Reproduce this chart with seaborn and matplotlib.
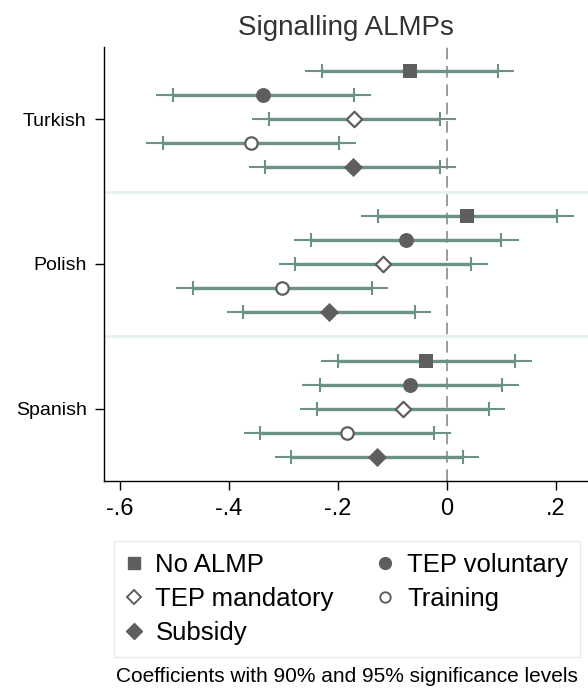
import numpy as np
import pandas as pd
import matplotlib
matplotlib.use("Agg")
import matplotlib.pyplot as plt
import seaborn as sns
from matplotlib.lines import Line2D

groups = ["Turkish", "Polish", "Spanish"]
series = ["No ALMP", "TEP voluntary", "TEP mandatory", "Training", "Subsidy"]

coef_noalmp = [-0.068, 0.037, -0.038]
lo95_noalmp = [-0.260, -0.157, -0.230]
hi95_noalmp = [0.1235, 0.233, 0.156]
lo90_noalmp = [-0.229, -0.127, -0.1995]
hi90_noalmp = [0.093, 0.202, 0.125]

coef_tepvol = [-0.3365, -0.0747, -0.0667]
lo95_tepvol = [-0.533, -0.281, -0.265]
hi95_tepvol = [-0.139, 0.132, 0.132]
lo90_tepvol = [-0.502, -0.249, -0.233]
hi90_tepvol = [-0.170, 0.0996, 0.101]

coef_tepman = [-0.170, -0.117, -0.0807]
lo95_tepman = [-0.357, -0.308, -0.2686]
hi95_tepman = [0.017, 0.075, 0.1075]
lo90_tepman = [-0.327, -0.278, -0.2385]
hi90_tepman = [-0.012, 0.044, 0.0776]

coef_training = [-0.360, -0.303, -0.1835]
lo95_training = [-0.552, -0.497, -0.372]
hi95_training = [-0.167, -0.108, 0.0073]
lo90_training = [-0.521, -0.466, -0.342]
hi90_training = [-0.198, -0.138, -0.0233]

coef_subsidy = [-0.173, -0.2166, -0.128]
lo95_subsidy = [-0.363, -0.403, -0.3156]
hi95_subsidy = [0.0177, -0.029, 0.0598]
lo90_subsidy = [-0.333, -0.374, -0.2857]
hi90_subsidy = [-0.012, -0.059, 0.030]

xticks = [-0.6, -0.4, -0.2, 0.0, 0.2]
xticklabels = ["-.6", "-.4", "-.2", "0", ".2"]

table = {
    "No ALMP": (coef_noalmp, lo95_noalmp, hi95_noalmp, lo90_noalmp, hi90_noalmp),
    "TEP voluntary": (coef_tepvol, lo95_tepvol, hi95_tepvol, lo90_tepvol, hi90_tepvol),
    "TEP mandatory": (coef_tepman, lo95_tepman, hi95_tepman, lo90_tepman, hi90_tepman),
    "Training": (coef_training, lo95_training, hi95_training, lo90_training, hi90_training),
    "Subsidy": (coef_subsidy, lo95_subsidy, hi95_subsidy, lo90_subsidy, hi90_subsidy),
}

rows = []
for si, s in enumerate(series):
    c, l95, h95, l90, h90 = table[s]
    for gi, g in enumerate(groups):
        rows.append(dict(series=s, group=g, gi=gi, si=si, coef=c[gi],
                         lo95=l95[gi], hi95=h95[gi], lo90=l90[gi], hi90=h90[gi]))
df = pd.DataFrame(rows)
step = 0.166
df["ypos"] = df["gi"] + (df["si"] - 2) * step

sns.set_theme(style="white")
plt.rcParams["font.family"] = ["Liberation Sans", "DejaVu Sans"]
plt.rcParams["text.color"] = "black"

fig = plt.figure(figsize=(5.88, 6.93), dpi=100)
ax = fig.add_axes([0.1769, 0.3059, 0.8231, 0.6263])

line_col = "#6b9283"
mk_col = "#5e5e5e"

# group separators
for b in [0.5, 1.5]:
    ax.axhline(b, color="#e6eff1", lw=2.0, zorder=0)
ax.axvline(0, color="#8a8a8a", lw=1.2, dashes=(7, 4), zorder=1)

ax.hlines(df["ypos"], df["lo95"], df["hi95"], color=line_col, lw=1.5, zorder=2)
ax.hlines(df["ypos"], df["lo90"], df["hi90"], color=line_col, lw=2.4, zorder=2)
ax.plot(df["lo90"], df["ypos"], ls="none", marker="|", ms=9.5, mew=1.5, color=line_col, zorder=3)
ax.plot(df["hi90"], df["ypos"], ls="none", marker="|", ms=9.5, mew=1.5, color=line_col, zorder=3)

styles = {
    "No ALMP": dict(marker="s", s=110, color=mk_col, edgecolor=mk_col, linewidth=0),
    "TEP voluntary": dict(marker="o", s=115, color=mk_col, edgecolor=mk_col, linewidth=0),
    "TEP mandatory": dict(marker="D", s=62, color="white", edgecolor=mk_col, linewidth=1.6),
    "Training": dict(marker="o", s=80, color="white", edgecolor=mk_col, linewidth=1.6),
    "Subsidy": dict(marker="D", s=95, color=mk_col, edgecolor=mk_col, linewidth=0),
}
for s in series:
    sub = df[df["series"] == s]
    sns.scatterplot(data=sub, x="coef", y="ypos", ax=ax, zorder=5, legend=False, **styles[s])

ax.set_xlim(-0.629, 0.259)
ax.set_ylim(2.5, -0.5)
ax.set_yticks(range(len(groups)))
ax.set_yticklabels(groups, fontsize=14)
ax.set_xticks(xticks)
ax.set_xticklabels(xticklabels, fontsize=17)
ax.set_xlabel("")
ax.set_ylabel("")
for sp in ["top", "right"]:
    ax.spines[sp].set_visible(False)
for sp in ["left", "bottom"]:
    ax.spines[sp].set_color("black")
    ax.spines[sp].set_linewidth(1.0)
ax.tick_params(axis="both", which="major", direction="out", length=6.5, width=1.0,
               color="black", labelcolor="black", left=True, bottom=True)
ax.tick_params(axis="x", pad=6)
ax.tick_params(axis="y", pad=6)
ax.set_title("Signalling ALMPs", fontsize=20, color="#333333", pad=8.5)

handles = {
    "No ALMP": Line2D([], [], ls="none", marker="s", ms=8, color=mk_col, mec=mk_col),
    "TEP voluntary": Line2D([], [], ls="none", marker="o", ms=8.5, color=mk_col, mec=mk_col),
    "TEP mandatory": Line2D([], [], ls="none", marker="D", ms=7, mfc="white", mec=mk_col, mew=1.4),
    "Training": Line2D([], [], ls="none", marker="o", ms=7.5, mfc="white", mec=mk_col, mew=1.4),
    "Subsidy": Line2D([], [], ls="none", marker="D", ms=8, color=mk_col, mec=mk_col),
}
order = ["No ALMP", "TEP mandatory", "Subsidy", "TEP voluntary", "Training"]
leg = fig.legend([handles[k] for k in order], order, ncol=2, loc="upper center",
                 bbox_to_anchor=(347 / 588, 1 - 541 / 693), fontsize=18.5,
                 frameon=True, fancybox=False, edgecolor="#e3ecec", framealpha=1,
                 handlelength=0.6, handletextpad=0.55, columnspacing=1.7,
                 labelspacing=0.4, borderpad=0.45, borderaxespad=0)
leg.get_frame().set_linewidth(1.0)
for t in leg.get_texts():
    t.set_color("black")

fig.text(347 / 588, 1 - 676 / 693, "Coefficients with 90% and 95% significance levels",
         ha="center", va="center", fontsize=15, color="black")

fig.savefig("out.png", dpi=100)
